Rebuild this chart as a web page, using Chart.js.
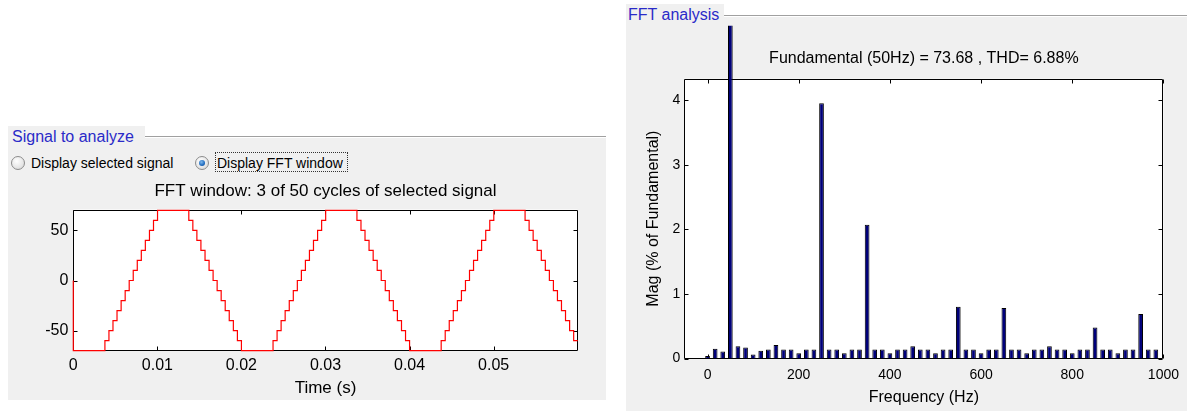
<!DOCTYPE html>
<html>
<head>
<meta charset="utf-8">
<script src="https://cdn.jsdelivr.net/npm/chart.js@4.4.1/dist/chart.umd.min.js"></script>
<style>
  body {
    margin: 0;
    width: 1187px;
    height: 411px;
    position: relative;
    overflow: hidden;
    background: #fff;
    font-family: "Liberation Sans", Arial, sans-serif;
  }
  .panel { position: absolute; background: #f0f0f0; }
  .panel-line {
    position: absolute;
    height: 1px;
    background: #a0a0a0;
    border-bottom: 1px solid #fff;
  }
  .panel-title {
    position: absolute;
    background: #f0f0f0;
    color: #2a2ac8;
    font-size: 16px;
    line-height: 22px;
    height: 22px;
    white-space: nowrap;
  }
  .radio {
    position: absolute;
    width: 12px;
    height: 12px;
    border: 1px solid #8c8c8c;
    border-radius: 50%;
    background: radial-gradient(circle at 40% 35%, #ffffff 0%, #e6e6e6 60%, #cfcfcf 100%);
  }
  .radio.on::after {
    content: "";
    position: absolute;
    left: 3px;
    top: 3px;
    width: 6px;
    height: 6px;
    border-radius: 50%;
    background: radial-gradient(circle at 40% 35%, #7fb8ec 0%, #1f6bbf 60%, #0b3f80 100%);
  }
  .radio-label {
    position: absolute;
    font-size: 14px;
    line-height: 16px;
    color: #000;
    white-space: nowrap;
  }
  .focus {
    position: absolute;
    border: 1px dotted #333;
  }
  .chart-box { position: absolute; }
</style>
</head>
<body>

<!-- left group: signal -->
<div class="panel" style="left:8px; top:137px; width:598px; height:263px;"></div>
<div class="panel-line" style="left:145px; top:136px; width:461px;"></div>
<div class="panel-title" style="left:8px; top:126px; width:137px; padding-left:4px; box-sizing:border-box;">Signal to analyze</div>

<div class="radio" style="left:11px; top:156px;"></div>
<div class="radio-label" style="left:31px; top:155px;">Display selected signal</div>
<div class="radio on" style="left:195px; top:156px;"></div>
<div class="focus" style="left:215px; top:152px; width:131px; height:18px;"></div>
<div class="radio-label" style="left:217px; top:155px;">Display FFT window</div>

<!-- right group: FFT -->
<div class="panel" style="left:626px; top:15px; width:561px; height:396px;"></div>
<div class="panel-line" style="left:724px; top:15px; width:463px;"></div>
<div class="panel-title" style="left:626px; top:4px; width:98px; padding-left:2px; box-sizing:border-box;">FFT analysis</div>

<div class="chart-box" style="left:0; top:170px; width:606px; height:235px;">
  <canvas id="chartSignal" width="606" height="235"></canvas>
</div>
<div class="chart-box" style="left:625px; top:0; width:562px; height:411px;">
  <canvas id="chartFFT" width="562" height="411"></canvas>
</div>

<script>
// Staircase signal: instants where the level changes (s) and the new level
const stepTimes = [
  0, 0,
  0.00376, 0.00424, 0.00472, 0.00520, 0.00569, 0.00617, 0.00665, 0.00713, 0.00761, 0.00809, 0.00857, 0.00906, 0.00954, 0.01002,
  0.01374, 0.01422, 0.01470, 0.01518, 0.01567, 0.01615, 0.01663, 0.01711, 0.01759, 0.01807, 0.01855, 0.01904, 0.01952, 0.02000,
  0.02376, 0.02424, 0.02472, 0.02520, 0.02569, 0.02617, 0.02665, 0.02713, 0.02761, 0.02809, 0.02857, 0.02906, 0.02954, 0.03002,
  0.03374, 0.03422, 0.03470, 0.03518, 0.03567, 0.03615, 0.03663, 0.03711, 0.03759, 0.03807, 0.03855, 0.03904, 0.03952, 0.04000,
  0.04376, 0.04424, 0.04472, 0.04520, 0.04569, 0.04617, 0.04665, 0.04713, 0.04761, 0.04809, 0.04857, 0.04906, 0.04954, 0.05002,
  0.05374, 0.05422, 0.05470, 0.05518, 0.05567, 0.05615, 0.05663, 0.05711, 0.05759, 0.05807, 0.05855, 0.05904, 0.05952,
  0.06000
];
const stepLevels = [
  0, -70,
  -60, -50, -40, -30, -20, -10, 0, 10, 20, 30, 40, 50, 60, 70,
  60, 50, 40, 30, 20, 10, 0, -10, -20, -30, -40, -50, -60, -70,
  -60, -50, -40, -30, -20, -10, 0, 10, 20, 30, 40, 50, 60, 70,
  60, 50, 40, 30, 20, 10, 0, -10, -20, -30, -40, -50, -60, -70,
  -60, -50, -40, -30, -20, -10, 0, 10, 20, 30, 40, 50, 60, 70,
  60, 50, 40, 30, 20, 10, 0, -10, -20, -30, -40, -50, -60,
  -60
];
const timeTicks = [0, 0.01, 0.02, 0.03, 0.04, 0.05];
const timeTickLabels = ["0", "0.01", "0.02", "0.03", "0.04", "0.05"];
const signalTicks = [-50, 0, 50];
const signalTickLabels = ["-50", "0", "50"];

// FFT bins (Hz), 3 cycles window -> 16.67 Hz resolution
const freqs = [
  0, 16.67, 33.33, 50, 66.67, 83.33, 100, 116.67, 133.33, 150,
  166.67, 183.33, 200, 216.67, 233.33, 250, 266.67, 283.33, 300, 316.67,
  333.33, 350, 366.67, 383.33, 400, 416.67, 433.33, 450, 466.67, 483.33,
  500, 516.67, 533.33, 550, 566.67, 583.33, 600, 616.67, 633.33, 650,
  666.67, 683.33, 700, 716.67, 733.33, 750, 766.67, 783.33, 800, 816.67,
  833.33, 850, 866.67, 883.33, 900, 916.67, 933.33, 950, 966.67, 983.33
];
// magnitude in % of fundamental
const mags = [
  0.04, 0.15, 0.11, 100, 0.19, 0.17, 0.06, 0.12, 0.14, 0.21,
  0.14, 0.14, 0.08, 0.14, 0.14, 3.95, 0.14, 0.14, 0.08, 0.14,
  0.14, 2.07, 0.14, 0.14, 0.08, 0.14, 0.14, 0.19, 0.14, 0.14,
  0.08, 0.14, 0.14, 0.80, 0.14, 0.14, 0.08, 0.14, 0.14, 0.78,
  0.14, 0.14, 0.08, 0.14, 0.14, 0.19, 0.14, 0.14, 0.08, 0.14,
  0.14, 0.48, 0.14, 0.14, 0.08, 0.14, 0.14, 0.69, 0.14, 0.14
];
const freqTicks = [0, 200, 400, 600, 800, 1000];
const freqTickLabels = ["0", "200", "400", "600", "800", "1000"];
const magTicks = [0, 1, 2, 3, 4];
const magTickLabels = ["0", "1", "2", "3", "4"];

const FONT = '"Liberation Sans", Arial, sans-serif';
Chart.defaults.font.family = FONT;
Chart.defaults.color = "#000";

// white plot area, black box and inward tick marks on all four sides
const axesBox = {
  id: "axesBox",
  beforeDraw(chart) {
    const { ctx, chartArea: a } = chart;
    ctx.save();
    ctx.fillStyle = "#fff";
    ctx.fillRect(a.left, a.top, a.right - a.left, a.bottom - a.top);
    ctx.restore();
  },
  beforeDatasetsDraw(chart) {
    const { ctx, chartArea: a, scales } = chart;
    const len = 4;
    const L = Math.round(a.left) + 0.5;
    const R = Math.round(a.right) - 0.5;
    const T = Math.round(a.top) + 0.5;
    const B = Math.round(a.bottom) - 0.5;
    ctx.save();
    ctx.strokeStyle = "#000";
    ctx.lineWidth = 1;
    ctx.beginPath();
    ctx.rect(L, T, R - L, B - T);
    scales.x.ticks.forEach((t) => {
      const px = Math.round(scales.x.getPixelForValue(t.value)) + 0.5;
      ctx.moveTo(px, B); ctx.lineTo(px, B - len);
      ctx.moveTo(px, T); ctx.lineTo(px, T + len);
    });
    scales.y.ticks.forEach((t) => {
      const py = Math.round(scales.y.getPixelForValue(t.value)) + 0.5;
      ctx.moveTo(L, py); ctx.lineTo(L + len, py);
      ctx.moveTo(R, py); ctx.lineTo(R - len, py);
    });
    ctx.stroke();
    ctx.restore();
  },
};

const signalPoints = stepTimes.map((t, i) => ({ x: t, y: stepLevels[i] }));

new Chart(document.getElementById("chartSignal"), {
  type: "line",
  data: {
    datasets: [
      {
        data: signalPoints,
        borderColor: "#ff0000",
        borderWidth: 1.2,
        pointRadius: 0,
        stepped: true,
        fill: false,
        clip: 2,
      },
    ],
  },
  options: {
    responsive: false,
    animation: false,
    layout: { padding: { left: 0, right: 28.3, top: 0, bottom: 0 } },
    plugins: {
      legend: { display: false },
      tooltip: { enabled: false },
      title: {
        display: true,
        fullSize: false,
        text: "FFT window: 3 of 50 cycles of selected signal",
        color: "#000",
        font: { size: 17, weight: "normal" },
        padding: { top: 10.8, bottom: 8.3 },
      },
    },
    scales: {
      x: {
        type: "linear",
        min: 0,
        max: 0.06,
        grid: { display: false, drawTicks: false },
        border: { display: false },
        ticks: {
          autoSkip: false,
          maxRotation: 0,
          padding: 5.4,
          font: { size: 16 },
          callback: (v, i) => timeTickLabels[i],
        },
        afterBuildTicks: (s) => { s.ticks = timeTicks.map((v) => ({ value: v })); },
        afterFit: (s) => { s.height = 54; },
        title: {
          display: true,
          text: "Time (s)",
          font: { size: 17 },
          padding: { top: 0, bottom: 6.8 },
        },
      },
      y: {
        min: -70.3,
        max: 70.8,
        grid: { display: false, drawTicks: false },
        border: { display: false },
        ticks: {
          autoSkip: false,
          padding: 5,
          font: { size: 16 },
          callback: (v, i) => signalTickLabels[i],
        },
        afterBuildTicks: (s) => { s.ticks = signalTicks.map((v) => ({ value: v })); },
        afterFit: (s) => { s.width = 73.3; },
      },
    },
  },
  plugins: [axesBox],
});

const fftPoints = freqs.map((f, i) => ({ x: f, y: mags[i] }));

new Chart(document.getElementById("chartFFT"), {
  type: "bar",
  data: {
    datasets: [
      {
        data: fftPoints,
        backgroundColor: "#00007a",
        borderColor: "#000",
        borderWidth: 1,
        barPercentage: 0.62,
        categoryPercentage: 1,
        // the fundamental (100 %) runs past the top of the axes
        clip: { left: 0, top: 53, right: 0, bottom: 0 },
      },
    ],
  },
  options: {
    responsive: false,
    animation: false,
    layout: { padding: { left: 0, right: 23.3, top: 0, bottom: 0 } },
    plugins: {
      legend: { display: false },
      tooltip: { enabled: false },
      title: {
        display: true,
        fullSize: false,
        text: "Fundamental (50Hz) = 73.68 , THD= 6.88%",
        color: "#000",
        font: { size: 16, weight: "normal" },
        padding: { top: 49.4, bottom: 10.1 },
      },
    },
    scales: {
      x: {
        type: "linear",
        min: -51,
        max: 1000,
        offset: false,
        grid: { display: false, drawTicks: false, offset: false },
        border: { display: false },
        ticks: {
          autoSkip: false,
          maxRotation: 0,
          padding: 8,
          font: { size: 14 },
          callback: (v, i) => freqTickLabels[i],
        },
        afterBuildTicks: (s) => { s.ticks = freqTicks.map((v) => ({ value: v })); },
        afterFit: (s) => { s.height = 52.5; },
        title: {
          display: true,
          text: "Frequency (Hz)",
          font: { size: 16 },
          padding: { top: 0, bottom: 3.4 },
        },
      },
      y: {
        min: 0,
        max: 4.33,
        grid: { display: false, drawTicks: false },
        border: { display: false },
        ticks: {
          autoSkip: false,
          padding: 4,
          font: { size: 14 },
          callback: (v, i) => magTickLabels[i],
        },
        afterBuildTicks: (s) => { s.ticks = magTicks.map((v) => ({ value: v })); },
        afterFit: (s) => { s.width = 59.3; },
        title: {
          display: true,
          text: "Mag (% of Fundamental)",
          font: { size: 16 },
          padding: { top: 19.4, bottom: 0 },
        },
      },
    },
  },
  plugins: [axesBox],
});
</script>
</body>
</html>
